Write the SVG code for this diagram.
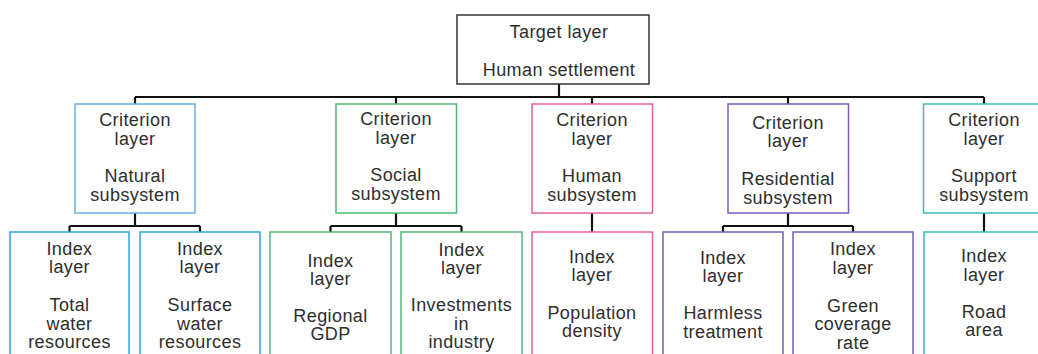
<svg xmlns="http://www.w3.org/2000/svg" width="1038" height="354" viewBox="0 0 1038 354">
  <style>
    text { font-family: "Liberation Sans", Arial, sans-serif; font-size: 18px; fill: #2e2e2e; text-anchor: middle; letter-spacing: 0.4px; }
    .box { fill: #fff; stroke-width: 1.5; }
    .target { stroke: #333; }
    .blue-c { stroke: #6aafe6; }
    .blue { stroke: #2aa6de; }
    .green { stroke: #4fb877; }
    .pink { stroke: #e5609f; }
    .purple { stroke: #7a5cbc; }
    .teal { stroke: #3dbdb1; }
    .conn { fill: none; stroke: #111; stroke-width: 2.2; }
  </style>

  <g id="connectors">
    <!-- target to criterion bus -->
    <path class="conn" d="M559 84V97M135 97H984M135 97V104M396 97V104M592 97V104M788 97V104M984 97V104"/>
    <!-- natural -->
    <path class="conn" d="M135 213V226M69.5 226H200M69.5 226V232M200 226V232"/>
    <!-- social -->
    <path class="conn" d="M396 213V226M330.5 226H461.5M330.5 226V232M461.5 226V232"/>
    <!-- human -->
    <path class="conn" d="M592 213V232"/>
    <!-- residential -->
    <path class="conn" d="M788 213V226M723 226H853M723 226V232M853 226V232"/>
    <!-- support -->
    <path class="conn" d="M984 213V232"/>
  </g>

  <g id="target">
    <rect class="box target" x="457" y="15" width="192" height="69"/>
    <text x="559" y="37.5">Target layer</text>
    <text x="559" y="76">Human settlement</text>
  </g>

  <g id="crit-natural">
    <rect class="box blue-c" x="75" y="104" width="120" height="109"/>
    <text x="135" y="126">Criterion</text>
    <text x="135" y="145">layer</text>
    <text x="135" y="182">Natural</text>
    <text x="135" y="201">subsystem</text>
  </g>
  <g id="crit-social">
    <rect class="box green" x="336" y="104" width="120.5" height="109"/>
    <text x="396" y="125">Criterion</text>
    <text x="396" y="144">layer</text>
    <text x="396" y="181">Social</text>
    <text x="396" y="200">subsystem</text>
  </g>
  <g id="crit-human">
    <rect class="box pink" x="532" y="104" width="120.5" height="109"/>
    <text x="592" y="126">Criterion</text>
    <text x="592" y="145">layer</text>
    <text x="592" y="182">Human</text>
    <text x="592" y="201">subsystem</text>
  </g>
  <g id="crit-residential">
    <rect class="box purple" x="728" y="104" width="120.5" height="109"/>
    <text x="788" y="128.5">Criterion</text>
    <text x="788" y="147">layer</text>
    <text x="788" y="185">Residential</text>
    <text x="788" y="203.5">subsystem</text>
  </g>
  <g id="crit-support">
    <rect class="box teal" x="923.5" y="104" width="121" height="109"/>
    <text x="984" y="126">Criterion</text>
    <text x="984" y="145">layer</text>
    <text x="984" y="182">Support</text>
    <text x="984" y="201">subsystem</text>
  </g>

  <g id="idx-total-water">
    <rect class="box blue" x="10" y="232" width="119" height="130"/>
    <text x="69.5" y="255">Index</text>
    <text x="69.5" y="273">layer</text>
    <text x="69.5" y="311">Total</text>
    <text x="69.5" y="329.5">water</text>
    <text x="69.5" y="348">resources</text>
  </g>
  <g id="idx-surface-water">
    <rect class="box blue" x="140" y="232" width="120" height="130"/>
    <text x="200" y="255">Index</text>
    <text x="200" y="273">layer</text>
    <text x="200" y="311">Surface</text>
    <text x="200" y="329.5">water</text>
    <text x="200" y="348">resources</text>
  </g>
  <g id="idx-gdp">
    <rect class="box green" x="270" y="232" width="121" height="130"/>
    <text x="330.5" y="266.5">Index</text>
    <text x="330.5" y="285">layer</text>
    <text x="330.5" y="321.5">Regional</text>
    <text x="330.5" y="340">GDP</text>
  </g>
  <g id="idx-investments">
    <rect class="box green" x="401" y="232" width="121" height="130"/>
    <text x="461.5" y="256">Index</text>
    <text x="461.5" y="274">layer</text>
    <text x="461.5" y="311">Investments</text>
    <text x="461.5" y="329.5">in</text>
    <text x="461.5" y="348">industry</text>
  </g>
  <g id="idx-population">
    <rect class="box pink" x="532" y="232" width="120.5" height="130"/>
    <text x="592" y="262.5">Index</text>
    <text x="592" y="281">layer</text>
    <text x="592" y="318.5">Population</text>
    <text x="592" y="337">density</text>
  </g>
  <g id="idx-harmless">
    <rect class="box purple" x="663" y="232" width="120" height="130"/>
    <text x="723" y="263.5">Index</text>
    <text x="723" y="282">layer</text>
    <text x="723" y="319">Harmless</text>
    <text x="723" y="338">treatment</text>
  </g>
  <g id="idx-green">
    <rect class="box purple" x="793" y="232" width="120" height="130"/>
    <text x="853" y="255">Index</text>
    <text x="853" y="273.5">layer</text>
    <text x="853" y="311.5">Green</text>
    <text x="853" y="330">coverage</text>
    <text x="853" y="348.5">rate</text>
  </g>
  <g id="idx-road">
    <rect class="box teal" x="924" y="232" width="120" height="130"/>
    <text x="984" y="262">Index</text>
    <text x="984" y="281">layer</text>
    <text x="984" y="317.5">Road</text>
    <text x="984" y="336">area</text>
  </g>
</svg>
